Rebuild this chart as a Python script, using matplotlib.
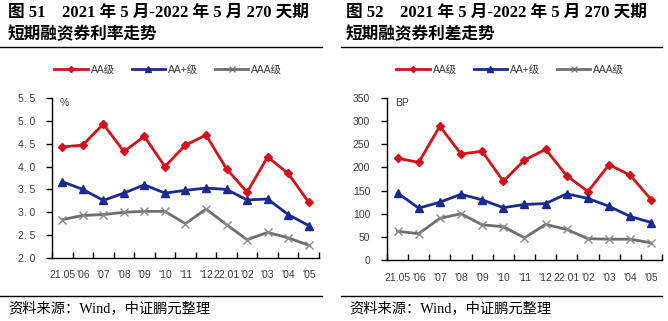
import numpy as np
import matplotlib
matplotlib.use('Agg')
import matplotlib.pyplot as plt
from matplotlib.lines import Line2D

plt.rcParams['font.family'] = ['Liberation Sans', 'Noto Sans CJK SC']

months = ["21.05", "'06", "'07", "'08", "'09", "'10", "'11", "'12",
          "22.01", "'02", "'03", "'04", "'05"]

# fig 51: rates (%)
rate_aa = [4.43, 4.47, 4.93, 4.33, 4.66, 4.00, 4.47, 4.69, 3.95, 3.44, 4.21, 3.85, 3.22]
rate_aap = [3.67, 3.50, 3.26, 3.42, 3.60, 3.42, 3.48, 3.53, 3.50, 3.27, 3.29, 2.95, 2.71]
rate_aaa = [2.84, 2.93, 2.95, 3.00, 3.02, 3.02, 2.75, 3.07, 2.73, 2.40, 2.56, 2.44, 2.28]

# fig 52: spreads (BP)
spr_aa = [220, 211, 289, 229, 235, 170, 216, 239, 182, 148, 206, 183, 130]
spr_aap = [145, 112, 125, 142, 130, 113, 120, 122, 143, 133, 116, 94, 81]
spr_aaa = [62, 57, 90, 100, 76, 72, 48, 77, 66, 46, 45, 45, 37]

RED = '#D0121B'
BLUE = '#1B2A8F'
GRAY = '#6E6E6E'
TXT = '#3A3A3A'
TITLE_FONT = ['Liberation Serif', 'Noto Sans CJK SC']

fig = plt.figure(figsize=(6.68, 3.21), dpi=100)


def draw_panel(rect, a, ap, aaa, ylim, yticks, ylabels, unit, unit_x, leg_x):
    ax = fig.add_axes(rect)
    x = np.arange(len(months))
    ax.plot(x, a, color=RED, lw=2, marker='D', ms=4.5, mec=RED, mfc=RED)
    ax.plot(x, ap, color=BLUE, lw=2, marker='^', ms=6, mec=BLUE, mfc=BLUE)
    ax.plot(x, aaa, color=GRAY, lw=2, marker='x', ms=6, mew=1.0, mec='#8A8A8A')
    ax.set_xlim(-0.5, len(months) - 0.5)
    ax.set_ylim(*ylim)
    ax.set_yticks(yticks)
    ax.set_yticklabels(ylabels)
    ax.set_xticks(x)
    ax.set_xticklabels(months)
    ax.set_xticks(np.arange(-0.5, len(months)), minor=True)
    ax.tick_params(axis='x', which='major', length=0, pad=9, labelsize=7.5, colors=TXT)
    ax.tick_params(axis='x', which='minor', direction='in', length=4, width=1)
    ax.tick_params(axis='y', direction='out', length=4, width=1, pad=8,
                   labelsize=7.5, labelcolor=TXT)
    for s in ['top', 'right']:
        ax.spines[s].set_visible(False)
    for s in ['left', 'bottom']:
        ax.spines[s].set_linewidth(1)
    ax.text(unit_x, ylim[1], unit, fontsize=7.5, color=TXT, va='top', ha='left',
            transform=ax.get_yaxis_transform())
    handles = [
        Line2D([], [], color=RED, lw=2, marker='D', ms=3),
        Line2D([], [], color=BLUE, lw=2, marker='^', ms=4),
        Line2D([], [], color=GRAY, lw=2, marker='x', ms=4, mew=0.8),
    ]
    fig.legend(handles, ['AA级', 'AA+级', 'AAA级'], loc='center',
               bbox_to_anchor=(leg_x, 0.782), ncol=3, frameon=False,
               fontsize=7.5, handlelength=3.2, handletextpad=0.3,
               columnspacing=1.6, labelcolor=TXT)
    return ax


draw_panel([0.0778, 0.1963, 0.3997, 0.4984], rate_aa, rate_aap, rate_aaa,
           (2.0, 5.5), [2.0, 2.5, 3.0, 3.5, 4.0, 4.5, 5.0, 5.5],
           ['2. 0', '2. 5', '3. 0', '3. 5', '4. 0', '4. 5', '5. 0', '5. 5'],
           '%', 0.03, 0.252)

draw_panel([0.5793, 0.19, 0.4117, 0.5047], spr_aa, spr_aap, spr_aaa,
           (0, 350), [0, 50, 100, 150, 200, 250, 300, 350],
           ['0', '50', '100', '150', '200', '250', '300', '350'],
           'BP', 0.03, 0.764)

# titles
titles = [
    (8 / 668, '图 51    2021 年 5 月-2022 年 5 月 270 天期', '短期融资券利率走势'),
    (346 / 668, '图 52    2021 年 5 月-2022 年 5 月 270 天期', '短期融资券利差走势'),
]
for tx, l1, l2 in titles:
    fig.text(tx, 1 - 13 / 321, l1, fontsize=12, fontweight='bold',
             family=TITLE_FONT, va='center', ha='left')
    fig.text(tx, 1 - 35 / 321, l2, fontsize=12, fontweight='bold',
             family=TITLE_FONT, va='center', ha='left')

# rules and sources
for x0, x1, sx in [(0, 322, 8), (341, 662, 349)]:
    for yy in (47, 296):
        fig.add_artist(Line2D([x0 / 668, x1 / 668], [1 - yy / 321, 1 - yy / 321],
                              color='black', lw=1, transform=fig.transFigure))
    fig.text(sx / 668, 1 - 308 / 321, '资料来源：Wind，中证鹏元整理', fontsize=10.3,
             family=TITLE_FONT, va='center', ha='left')

fig.savefig('out.png', dpi=100)
